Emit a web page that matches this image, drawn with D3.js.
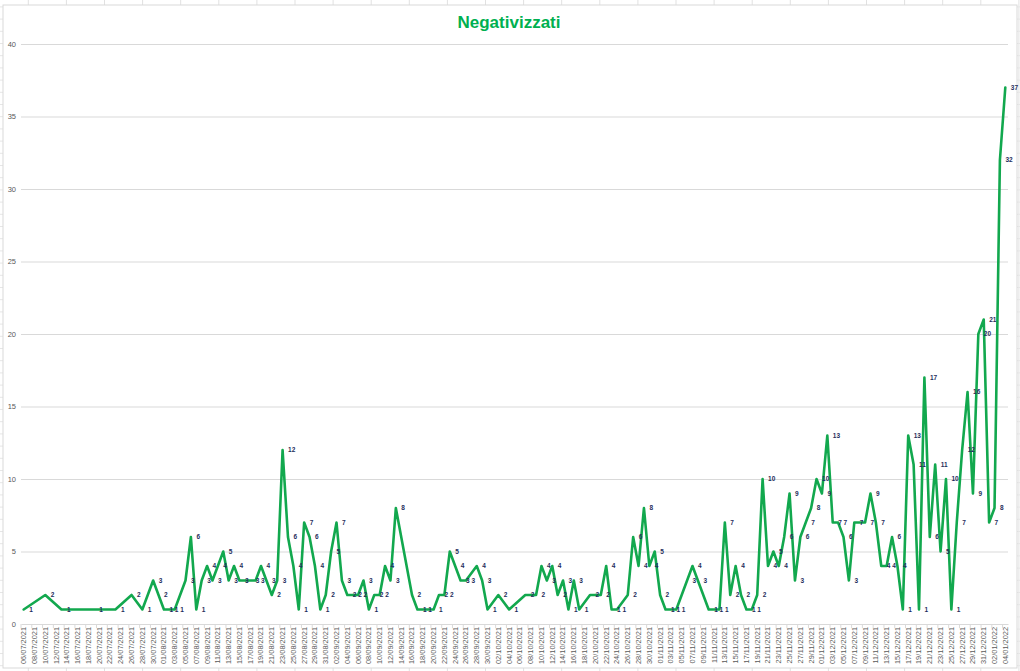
<!DOCTYPE html>
<html>
<head>
<meta charset="utf-8">
<script src="https://cdn.jsdelivr.net/npm/d3@7/dist/d3.min.js"></script>
<style>
  html, body { margin: 0; padding: 0; background: #ffffff; }
  svg { display: block; }
</style>
</head>
<body>
<svg id="chart" width="1020" height="671"></svg>
<script>
// ---- Data ----
const title = "Negativizzati";
const axisStart = "06/07/2021";
const axisEnd = "04/01/2022";
const yTicks = [0, 5, 10, 15, 20, 25, 30, 35, 40];

const dates = [
  "06/07/2021","10/07/2021","13/07/2021","19/07/2021","23/07/2021","26/07/2021","28/07/2021","30/07/2021","31/07/2021",
  "01/08/2021","02/08/2021","03/08/2021","05/08/2021","06/08/2021","07/08/2021","08/08/2021","09/08/2021","10/08/2021",
  "11/08/2021","12/08/2021","13/08/2021","14/08/2021","15/08/2021","17/08/2021","18/08/2021","19/08/2021","20/08/2021",
  "21/08/2021","22/08/2021","23/08/2021","24/08/2021","25/08/2021","26/08/2021","27/08/2021","28/08/2021","29/08/2021",
  "30/08/2021","31/08/2021",
  "01/09/2021","02/09/2021","03/09/2021","04/09/2021","05/09/2021","06/09/2021","07/09/2021","08/09/2021","09/09/2021",
  "10/09/2021","11/09/2021","12/09/2021","13/09/2021","16/09/2021","17/09/2021","18/09/2021","20/09/2021","21/09/2021",
  "22/09/2021","23/09/2021","24/09/2021","25/09/2021","26/09/2021","28/09/2021","29/09/2021","30/09/2021",
  "02/10/2021","04/10/2021","07/10/2021","09/10/2021","10/10/2021","11/10/2021","12/10/2021","13/10/2021","14/10/2021",
  "15/10/2021","16/10/2021","17/10/2021","19/10/2021","21/10/2021","22/10/2021","23/10/2021","24/10/2021","26/10/2021",
  "27/10/2021","28/10/2021","29/10/2021","30/10/2021","31/10/2021",
  "01/11/2021","02/11/2021","03/11/2021","04/11/2021","06/11/2021","07/11/2021","08/11/2021","10/11/2021","11/11/2021",
  "12/11/2021","13/11/2021","14/11/2021","15/11/2021","16/11/2021","17/11/2021","18/11/2021","19/11/2021","20/11/2021",
  "21/11/2021","22/11/2021","23/11/2021","24/11/2021","25/11/2021","26/11/2021","27/11/2021","28/11/2021","29/11/2021",
  "30/11/2021",
  "01/12/2021","02/12/2021","03/12/2021","04/12/2021","05/12/2021","06/12/2021","07/12/2021","09/12/2021","10/12/2021",
  "11/12/2021","12/12/2021","13/12/2021","14/12/2021","15/12/2021","16/12/2021","17/12/2021","18/12/2021","19/12/2021",
  "20/12/2021","21/12/2021","22/12/2021","23/12/2021","24/12/2021","25/12/2021","26/12/2021","27/12/2021","28/12/2021",
  "29/12/2021","30/12/2021","31/12/2021",
  "01/01/2022","02/01/2022","03/01/2022","04/01/2022"
];

const values = [
  1,2,1,1,1,2,1,3,2,
  1,1,1,3,6,1,3,4,3,
  4,5,3,4,3,3,3,4,3,
  2,3,12,6,4,1,7,6,4,
  1,2,
  5,7,3,2,2,2,3,1,2,
  2,4,3,8,2,1,1,1,2,
  2,5,4,3,3,4,3,1,
  2,1,2,2,4,3,4,2,3,
  1,3,1,2,2,4,1,1,2,
  6,4,8,4,5,
  2,1,1,1,3,4,3,1,1,
  1,7,2,4,2,1,1,2,10,
  4,5,4,6,9,3,6,7,8,
  10,
  9,13,7,7,6,3,7,7,9,
  7,4,4,6,4,1,13,11,1,
  17,6,11,5,10,1,7,12,16,
  9,20,21,
  7,8,32,37
];

// ---- Layout ----
const W = 1020, H = 671;
const chartBox = { x: 3, y: 5, w: 1014, h: 663 };
const plot = { left: 21, right: 1008, top: 44, bottom: 624 };
const lineColor = "#12A84E";
const titleColor = "#00B050";
const labelColor = "#1F2E5C";
const axisTextColor = "#595959";
const gridColor = "#D9D9D9";

const parse = d3.timeParse("%d/%m/%Y");
const fmt = d3.timeFormat("%d/%m/%Y");

const svg = d3.select("#chart");

// Spreadsheet cell grid behind the chart
const sheet = svg.append("g");
sheet.append("rect").attr("x", 0).attr("y", 0).attr("width", W).attr("height", H).attr("fill", "#ffffff");
for (let cx = 28.3; cx < W; cx += 38.1) {
  sheet.append("line").attr("x1", cx).attr("x2", cx).attr("y1", 0).attr("y2", H)
    .attr("stroke", "#E1E1E1").attr("stroke-width", 1);
}
for (let cy = 6.9; cy < H; cy += 12.2) {
  sheet.append("line").attr("x1", 0).attr("x2", W).attr("y1", cy).attr("y2", cy)
    .attr("stroke", "#E6E6E6").attr("stroke-width", 1);
}

// Chart area
svg.append("rect")
  .attr("x", chartBox.x).attr("y", chartBox.y)
  .attr("width", chartBox.w).attr("height", chartBox.h)
  .attr("fill", "#ffffff").attr("stroke", "#D9D9D9").attr("stroke-width", 1);

// Scales
const allDays = d3.timeDay.range(parse(axisStart), d3.timeDay.offset(parse(axisEnd), 1)).map(fmt);
const x = d3.scaleBand().domain(allDays).range([plot.left, plot.right]).padding(0);
const xc = d => x(d) + x.bandwidth() / 2;
const y = d3.scaleLinear().domain([0, 40]).range([plot.bottom, plot.top]);

// Gridlines
svg.append("g").selectAll("line").data(yTicks.filter(v => v > 0)).join("line")
  .attr("x1", plot.left).attr("x2", plot.right)
  .attr("y1", v => y(v) + 0.5).attr("y2", v => y(v) + 0.5)
  .attr("stroke", gridColor).attr("stroke-width", 1);

// Y axis (labels only)
const yAxis = d3.axisLeft(y).tickValues(yTicks).tickSize(0).tickPadding(0);
const gy = svg.append("g").attr("transform", `translate(${plot.left - 5},0)`).call(yAxis);
gy.select(".domain").remove();
gy.selectAll("text")
  .attr("fill", axisTextColor)
  .style("font-family", "'Liberation Sans', Arial, sans-serif")
  .style("font-size", "7.5px");

// X axis
const tickDays = allDays.filter((d, i) => i % 2 === 0);
const xAxis = d3.axisBottom(x).tickValues(tickDays).tickSize(0).tickPadding(0);
const gx = svg.append("g").attr("transform", `translate(0,${plot.bottom})`).call(xAxis);
gx.select(".domain").attr("stroke", gridColor).attr("stroke-width", 1);
gx.selectAll(".tick text")
  .attr("fill", axisTextColor)
  .attr("transform", "rotate(-90)")
  .attr("text-anchor", "end")
  .attr("x", -3)
  .attr("y", 0)
  .attr("dy", "0.33em")
  .style("font-family", "'Liberation Sans', Arial, sans-serif")
  .style("font-size", "7.4px");
// tick marks at slot boundaries every 2 days
svg.append("g").selectAll("line").data(tickDays).join("line")
  .attr("x1", d => x(d)).attr("x2", d => x(d))
  .attr("y1", plot.bottom).attr("y2", plot.bottom + 4)
  .attr("stroke", gridColor).attr("stroke-width", 1);

// Line
const pts = dates.map((d, i) => ({ d: fmt(parse(d)), v: values[i] }));
const line = d3.line().x(p => xc(p.d)).y(p => y(p.v)).curve(d3.curveLinear);
svg.append("path")
  .datum(pts)
  .attr("d", line)
  .attr("fill", "none")
  .attr("stroke", lineColor)
  .attr("stroke-width", 2.6)
  .attr("stroke-linejoin", "round")
  .attr("stroke-linecap", "round");

// Data labels (right of each point)
svg.append("g").selectAll("text").data(pts).join("text")
  .attr("x", p => xc(p.d) + 5.5)
  .attr("y", p => y(p.v))
  .attr("dy", "0.35em")
  .attr("fill", labelColor)
  .style("font-family", "'Liberation Sans', Arial, sans-serif")
  .style("font-size", "6.5px")
  .style("font-weight", "bold")
  .text(p => p.v);

// Title
svg.append("text")
  .attr("x", 509).attr("y", 28)
  .attr("text-anchor", "middle")
  .attr("fill", titleColor)
  .style("font-family", "'Liberation Sans', Arial, sans-serif")
  .style("font-size", "17px")
  .style("font-weight", "bold")
  .text(title);
</script>
</body>
</html>
